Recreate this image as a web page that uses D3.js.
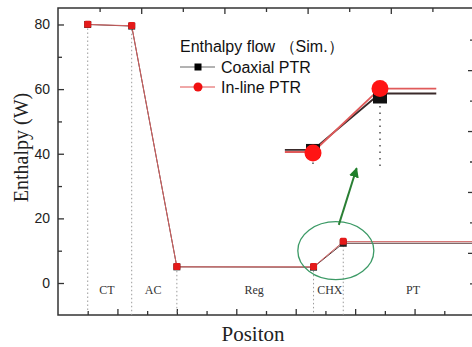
<!DOCTYPE html>
<html>
<head>
<meta charset="utf-8">
<script src="https://cdn.jsdelivr.net/npm/d3@7"></script>
<style>
    body { margin: 0; background: #fff; }
    svg { display: block; }
    .tick text { font-family: "Liberation Sans", Arial, sans-serif; font-size: 14px; fill: #222; }
    .tick line { stroke: #333; stroke-width: 1.3px; }
</style>
</head>
<body>
<div id="chart"></div>
<script>
// main curves (position in arbitrary units along the cooler)
const positions = [1, 2.48, 4, 8.6, 9.6, 14];
const coaxial = [80, 79.5, 5, 4.9, 12.3, 12.3];
const inline = [80, 79.6, 5, 5.0, 12.8, 12.8];
const markerCount = 5;

// section labels
const regions = ["CT", "AC", "Reg", "CHX", "PT"];
const regionPos = [1.65, 3.2, 6.6, 9.15, 11.95];

// zoomed inset around the cold heat exchanger
const insetPos = [8.18, 8.6, 9.6, 10.44];
const insetCoaxial = [5.25, 5.25, 12.15, 12.15];
const insetInline = [5.0, 5.0, 12.75, 12.75];

const yTicks = [0, 20, 40, 60, 80];
const yMinor = [10, 30, 50, 70];

const width = 472;
const height = 347;
const plot = { left: 58, right: 474, top: 8, bottom: 315 };

const svg = d3.select('#chart').append('svg')
    .attr('width', width)
    .attr('height', height);

const x = d3.scaleLinear().domain([0, 14]).range([plot.left, plot.right]);
const xTop = d3.scaleLinear().domain([0, 10]).range([plot.left, plot.right]);
const y = d3.scaleLinear().domain([-9.9, 85.1]).range([plot.bottom, plot.top]);
const yRight = d3.scaleLinear().domain([-10.2, 40.2]).range([plot.bottom, plot.top]);

// axes (ticks point inward)
svg.append('g')
    .attr('transform', `translate(${plot.left},0)`)
    .call(d3.axisLeft(y).tickValues(yTicks).tickSizeInner(-6).tickSizeOuter(0).tickPadding(8))
    .call(g => g.select('.domain').remove());
svg.append('g')
    .attr('transform', `translate(${plot.left},0)`)
    .call(d3.axisLeft(y).tickValues(yMinor).tickSizeInner(-4).tickSizeOuter(0).tickFormat(''))
    .call(g => g.select('.domain').remove());

svg.append('g')
    .attr('transform', `translate(0,${plot.bottom})`)
    .call(d3.axisBottom(x).tickValues([2, 4, 6, 8, 10, 12]).tickSizeInner(-6).tickSizeOuter(0).tickFormat(''))
    .call(g => g.select('.domain').remove());
svg.append('g')
    .attr('transform', `translate(0,${plot.bottom})`)
    .call(d3.axisBottom(x).tickValues([1, 3, 5, 7, 9, 11, 13]).tickSizeInner(-4).tickSizeOuter(0).tickFormat(''))
    .call(g => g.select('.domain').remove());

svg.append('g')
    .attr('transform', `translate(0,${plot.top})`)
    .call(d3.axisTop(xTop).tickValues([2, 4, 6, 8]).tickSizeInner(-6).tickSizeOuter(0).tickFormat(''))
    .call(g => g.select('.domain').remove());
svg.append('g')
    .attr('transform', `translate(0,${plot.top})`)
    .call(d3.axisTop(xTop).tickValues([1, 3, 5, 7, 9]).tickSizeInner(-4).tickSizeOuter(0).tickFormat(''))
    .call(g => g.select('.domain').remove());

svg.append('g')
    .attr('transform', `translate(${plot.right},0)`)
    .call(d3.axisRight(yRight).tickValues([0, 10, 20, 30]).tickSizeInner(-6).tickSizeOuter(0).tickFormat(''))
    .call(g => g.select('.domain').remove());
svg.append('g')
    .attr('transform', `translate(${plot.right},0)`)
    .call(d3.axisRight(yRight).tickValues([-5, 5, 15, 25, 35]).tickSizeInner(-4).tickSizeOuter(0).tickFormat(''))
    .call(g => g.select('.domain').remove());

svg.append('rect')
    .attr('x', plot.left).attr('y', plot.top)
    .attr('width', plot.right - plot.left).attr('height', plot.bottom - plot.top)
    .attr('fill', 'none')
    .attr('stroke', '#333')
    .attr('stroke-width', 1.5);

// dotted drop lines
svg.selectAll('.drop')
    .data(positions.slice(0, markerCount))
    .enter().append('line')
    .attr('class', 'drop')
    .attr('x1', d => x(d)).attr('x2', d => x(d))
    .attr('y1', (d, i) => y(inline[i]))
    .attr('y2', plot.bottom)
    .attr('stroke', '#9a9a9a')
    .attr('stroke-width', 1)
    .attr('stroke-dasharray', '1.5,2.5');

// section labels
svg.selectAll('.region')
    .data(regions)
    .enter().append('text')
    .attr('class', 'region')
    .attr('x', (d, i) => x(regionPos[i]))
    .attr('y', y(-2))
    .attr('dy', '0.35em')
    .attr('text-anchor', 'middle')
    .style('font-family', '"Liberation Serif", "Times New Roman", serif')
    .style('font-size', '12px')
    .style('fill', '#333')
    .text(d => d);

// curves
const line = d3.line()
    .x(d => x(d[0]))
    .y(d => y(d[1]));

svg.append('path')
    .datum(positions.map((p, i) => [p, coaxial[i]]))
    .attr('d', line)
    .attr('fill', 'none')
    .attr('stroke', '#5a3a3a')
    .attr('stroke-width', 1);

svg.append('path')
    .datum(positions.map((p, i) => [p, inline[i]]))
    .attr('d', line)
    .attr('fill', 'none')
    .attr('stroke', '#d06060')
    .attr('stroke-width', 1);

svg.selectAll('.mk-coax')
    .data(positions.slice(0, markerCount))
    .enter().append('rect')
    .attr('class', 'mk-coax')
    .attr('x', (d, i) => x(d) - 3.5)
    .attr('y', (d, i) => y(coaxial[i]) - 3.5)
    .attr('width', 7).attr('height', 7)
    .attr('fill', '#222');

svg.selectAll('.mk-inline')
    .data(positions.slice(0, markerCount))
    .enter().append('rect')
    .attr('class', 'mk-inline')
    .attr('x', (d, i) => x(d) - 3.5)
    .attr('y', (d, i) => y(inline[i]) - 3.8)
    .attr('width', 7).attr('height', 7)
    .attr('rx', 1.5)
    .attr('fill', '#e41a1a');

// highlight ellipse + arrow
svg.append('ellipse')
    .attr('cx', x(9.35)).attr('cy', y(10))
    .attr('rx', 38).attr('ry', 29)
    .attr('fill', 'none')
    .attr('stroke', '#3c9a66')
    .attr('stroke-width', 1.3);

svg.append('defs').append('marker')
    .attr('id', 'arrow')
    .attr('viewBox', '0 0 10 10')
    .attr('refX', 9).attr('refY', 5)
    .attr('markerWidth', 5).attr('markerHeight', 5)
    .attr('orient', 'auto')
    .append('path')
    .attr('d', 'M0,0 L10,5 L0,10 Z')
    .attr('fill', '#1f7f2a');

svg.append('line')
    .attr('x1', x(9.45)).attr('y1', y(18))
    .attr('x2', x(10.05)).attr('y2', y(35.5))
    .attr('stroke', '#2a7f34')
    .attr('stroke-width', 2)
    .attr('marker-end', 'url(#arrow)');

// inset
const ix = d3.scaleLinear().domain([8.6, 9.6]).range([313, 380]);
const iy = d3.scaleLinear().domain([5, 12.7]).range([152, 89]);
const insetLine = d3.line()
    .x(d => ix(d[0]))
    .y(d => iy(d[1]));

svg.selectAll('.idrop')
    .data(insetPos.slice(1, 3))
    .enter().append('line')
    .attr('class', 'idrop')
    .attr('x1', d => ix(d)).attr('x2', d => ix(d))
    .attr('y1', (d, i) => iy(insetCoaxial[i + 1]) + 6)
    .attr('y2', 168)
    .attr('stroke', '#333')
    .attr('stroke-width', 1.3)
    .attr('stroke-dasharray', '1.5,5');

svg.append('path')
    .datum(insetPos.map((p, i) => [p, insetCoaxial[i]]))
    .attr('d', insetLine)
    .attr('fill', 'none')
    .attr('stroke', '#3a2a2a')
    .attr('stroke-width', 1.8);

svg.append('path')
    .datum(insetPos.map((p, i) => [p, insetInline[i]]))
    .attr('d', insetLine)
    .attr('fill', 'none')
    .attr('stroke', '#e05a5a')
    .attr('stroke-width', 1.8);

svg.selectAll('.imk-coax')
    .data(insetPos.slice(1, 3))
    .enter().append('rect')
    .attr('class', 'imk-coax')
    .attr('x', d => ix(d) - 7)
    .attr('y', (d, i) => iy(insetCoaxial[i + 1]) - 7 + (i === 1 ? 3 : 1))
    .attr('width', 14).attr('height', 14)
    .attr('fill', '#111');

svg.selectAll('.imk-inline')
    .data(insetPos.slice(1, 3))
    .enter().append('circle')
    .attr('class', 'imk-inline')
    .attr('cx', d => ix(d))
    .attr('cy', (d, i) => iy(insetInline[i + 1]) + (i === 0 ? 1 : 0))
    .attr('r', 8.5)
    .attr('fill', '#ff1414');

// legend
const legend = svg.append('g').attr('transform', 'translate(180,0)');
legend.append('text')
    .attr('x', 0).attr('y', 52)
    .style('font-family', '"Liberation Sans", Arial, sans-serif')
    .style('font-size', '16px')
    .style('fill', '#111')
    .text('Enthalpy flow （Sim.）');

const legendItems = ['Coaxial PTR', 'In-line PTR'];
legendItems.forEach((name, i) => {
    const ly = 67 + i * 20;
    legend.append('line')
        .attr('x1', 0).attr('x2', 35)
        .attr('y1', ly).attr('y2', ly)
        .attr('stroke', i === 0 ? '#666' : '#e05050')
        .attr('stroke-width', 1);
    if (i === 0) {
        legend.append('rect')
            .attr('x', 18 - 3.5).attr('y', ly - 3.5)
            .attr('width', 7).attr('height', 7)
            .attr('fill', '#000');
    } else {
        legend.append('circle')
            .attr('cx', 18).attr('cy', ly)
            .attr('r', 4.5)
            .attr('fill', '#f01010');
    }
    legend.append('text')
        .attr('x', 41).attr('y', ly + 5.5)
        .style('font-family', '"Liberation Sans", Arial, sans-serif')
        .style('font-size', '16px')
        .style('fill', '#111')
        .text(name);
});

// axis titles
svg.append('text')
    .attr('transform', `translate(28,${(plot.top + plot.bottom) / 2 - 14}) rotate(-90)`)
    .attr('text-anchor', 'middle')
    .style('font-family', '"Liberation Serif", "Times New Roman", serif')
    .style('font-size', '20px')
    .style('fill', '#222')
    .text('Enthalpy (W)');

svg.append('text')
    .attr('x', 253).attr('y', 341)
    .attr('text-anchor', 'middle')
    .style('font-family', '"Liberation Serif", "Times New Roman", serif')
    .style('font-size', '21px')
    .style('fill', '#222')
    .text('Positon');
</script>
</body>
</html>
